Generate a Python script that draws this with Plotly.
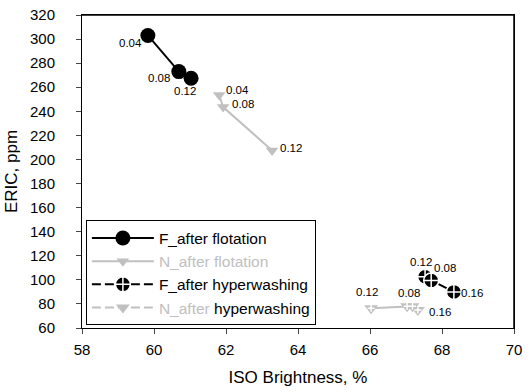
import plotly.graph_objects as go

GRAY = "#c0c0c0"
FONT = "Arial, Liberation Sans, sans-serif"

# Data
f_flot_x = [59.83, 60.69, 61.03]
f_flot_y = [303, 273, 267.5]
f_flot_lbl = ["0.04", "0.08", "0.12"]

n_flot_x = [61.81, 61.92, 63.28]
n_flot_y = [253.5, 243.5, 207.5]
n_flot_lbl = ["0.04", "0.08", "0.12"]

f_hw_x = [67.53, 67.70, 68.33]
f_hw_y = [102.5, 99.5, 90]
f_hw_lbl = ["0.12", "0.08", "0.16"]

n_hw_x = [66.03, 67.03, 67.18, 67.33]
n_hw_y = [76.5, 78, 78, 75]
n_hw_lbl = ["0.12", "", "0.08", "0.16"]

x_ticks = [58, 60, 62, 64, 66, 68, 70]
y_ticks = list(range(60, 321, 20))

# label offsets (pixels): dx, dy (dy positive = up)
f_flot_off = [(-17, -8), (-20, -6), (-6, -13)]
n_flot_off = [(18, 5), (20, 3), (19, 2)]
f_hw_off = [(-4, 15), (14, 12), (18, -1)]
n_hw_off = [(-4, 16), (0, 0), (-3, 13), (22, -2)]

fig = go.Figure()

fig.add_trace(go.Scatter(
    x=f_flot_x, y=f_flot_y, mode="lines+markers", name="F_after flotation",
    line=dict(color="black", width=2),
    marker=dict(symbol="circle", size=15, color="black"),
))
fig.add_trace(go.Scatter(
    x=n_flot_x, y=n_flot_y, mode="lines+markers",
    name="<span style='color:#c0c0c0'>N_after flotation</span>",
    line=dict(color=GRAY, width=2),
    marker=dict(symbol="triangle-down", size=11, color=GRAY),
))
# legend-only entries for the hyperwashing series (dashed legend lines)
fig.add_trace(go.Scatter(
    x=[None], y=[None], mode="lines+markers", name="F_after hyperwashing",
    line=dict(color="black", width=2, dash="9px,4px"),
    marker=dict(symbol="circle-cross", size=15, color="black",
                line=dict(color="white", width=1.5)),
))
fig.add_trace(go.Scatter(
    x=[None], y=[None], mode="lines+markers",
    name="<span style='color:#c0c0c0'>N_after</span> hyperwashing",
    line=dict(color=GRAY, width=2, dash="9px,4px"),
    marker=dict(symbol="triangle-down", size=12, color=GRAY),
))
# hyperwashing data
fig.add_trace(go.Scatter(
    x=f_hw_x, y=f_hw_y, mode="lines+markers", showlegend=False,
    line=dict(color="black", width=2),
    marker=dict(symbol="circle-cross", size=15, color="black",
                line=dict(color="white", width=1.5)),
))
fig.add_trace(go.Scatter(
    x=n_hw_x, y=n_hw_y, mode="lines+markers", showlegend=False,
    line=dict(color=GRAY, width=2),
    marker=dict(symbol="triangle-down", size=12, color=GRAY),
))
fig.add_trace(go.Scatter(
    x=n_hw_x, y=n_hw_y, mode="markers", showlegend=False, hoverinfo="skip",
    marker=dict(symbol="cross-thin", size=5, color="white",
                line=dict(color="white", width=1.5)),
))

for xs, ys, lbls, offs in [
    (f_flot_x, f_flot_y, f_flot_lbl, f_flot_off),
    (n_flot_x, n_flot_y, n_flot_lbl, n_flot_off),
    (f_hw_x, f_hw_y, f_hw_lbl, f_hw_off),
    (n_hw_x, n_hw_y, n_hw_lbl, n_hw_off),
]:
    for x, y, t, (dx, dy) in zip(xs, ys, lbls, offs):
        if not t:
            continue
        fig.add_annotation(x=x, y=y, text=t, showarrow=False,
                           xshift=dx, yshift=dy,
                           font=dict(size=11.5, color="black", family=FONT))

# plot frame: top and right edges
fig.add_shape(type="line", xref="paper", yref="paper", x0=0, y0=1, x1=1, y1=1,
              line=dict(color="black", width=1.5), layer="above")
fig.add_shape(type="line", xref="paper", yref="paper", x0=1, y0=0, x1=1, y1=1,
              line=dict(color="black", width=1.5), layer="above")

fig.update_layout(
    width=532, height=392,
    margin=dict(l=82, r=18, t=15, b=64, autoexpand=False),
    paper_bgcolor="white", plot_bgcolor="white",
    font=dict(family=FONT, color="black", size=15),
    showlegend=True,
    legend=dict(
        x=0.009, y=0.008, xanchor="left", yanchor="bottom",
        bgcolor="white", bordercolor="black", borderwidth=1,
        font=dict(size=15.5, family=FONT, color="black"),
        tracegroupgap=0, itemwidth=62,
    ),
)
fig.update_xaxes(
    range=[58, 70], tickvals=x_ticks, ticks="outside", ticklen=5,
    showline=True, linecolor="black", linewidth=1, mirror=True,
    showgrid=False, zeroline=False, automargin=False,
    tickfont=dict(size=15), ticklabelstandoff=3,
    title=dict(text="ISO Brightness, %", font=dict(size=17), standoff=14),
)
fig.update_yaxes(
    range=[60, 320], tickvals=y_ticks, ticks="outside", ticklen=5,
    showline=True, linecolor="black", linewidth=1, mirror=True,
    showgrid=False, zeroline=False, automargin=False,
    tickfont=dict(size=15), ticklabelstandoff=18, ticklabeloverflow="allow",
    title=dict(text="ERIC, ppm", font=dict(size=17), standoff=8),
)

# remove the default 8px page margin so the figure fills the window exactly
fig.write_html("out.html", config={"displayModeBar": False},
               post_script="document.body.style.margin='0';")
